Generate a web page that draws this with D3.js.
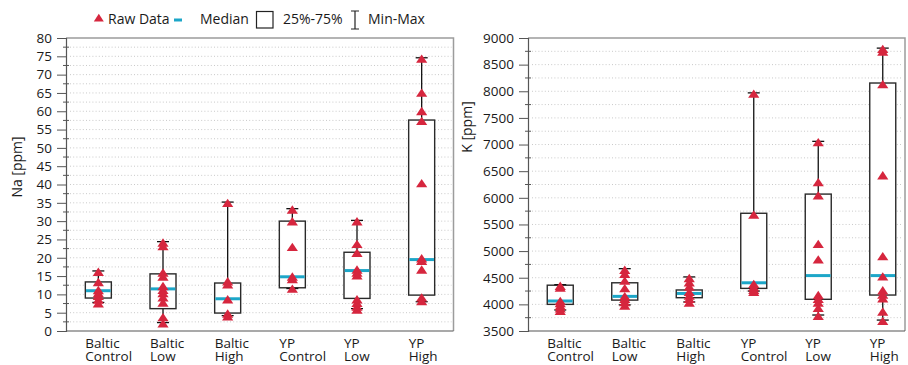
<!DOCTYPE html>
<html>
<head>
<meta charset="utf-8">
<script src="https://cdn.jsdelivr.net/npm/d3@7"></script>
<style>
  body { margin: 0; background: #fff; }
  svg { display: block; font-family: "Open Sans", sans-serif; }
</style>
</head>
<body>
<svg id="chart" width="908" height="365"></svg>
<script>
// Treatment groups
const categories = ["Baltic Control", "Baltic Low", "Baltic High", "YP Control", "YP Low", "YP High"];

// Na [ppm] summary statistics per group
const naMin    = [7.8, 2.3, 4.2, 11.6, 6.1, 8.0];
const naQ1     = [9.0, 6.1, 4.9, 11.8, 8.9, 9.8];
const naMedian = [11.0, 11.5, 8.8, 14.8, 16.5, 19.5];
const naQ3     = [13.4, 15.6, 13.1, 30.0, 21.5, 57.6];
const naMax    = [16.4, 24.4, 35.2, 33.4, 30.2, 74.6];
// Na raw measurements per group
const naRaw = [
  [16.4, 13.6, 11.4, 10.6, 9.8, 8.8, 7.8],
  [24.4, 23.4, 16.2, 15.1, 12.5, 11.5, 10.6, 9.4, 8.0, 4.0, 2.3],
  [35.2, 13.8, 13.0, 8.9, 5.0, 4.2],
  [33.4, 30.2, 23.2, 15.1, 14.4, 11.8],
  [30.2, 24.0, 21.6, 17.0, 16.2, 15.4, 8.9, 7.9, 6.9, 6.1],
  [74.6, 65.3, 60.3, 57.6, 40.6, 20.1, 19.4, 17.0, 9.4, 8.4]
];

// K [ppm] summary statistics per group
const kMin    = [3895, 3990, 4045, 4250, 3800, 3705];
const kQ1     = [4000, 4080, 4125, 4300, 4095, 4175];
const kMedian = [4063, 4150, 4205, 4405, 4540, 4540];
const kQ3     = [4360, 4405, 4270, 5710, 6070, 8155];
const kMax    = [4370, 4670, 4515, 7970, 7060, 8810];
// K raw measurements per group
const kRaw = [
  [4365, 4330, 4080, 4040, 3990, 3940, 3895],
  [4665, 4590, 4460, 4320, 4170, 4120, 4060, 3995],
  [4510, 4430, 4350, 4250, 4180, 4120, 4050],
  [7970, 5700, 4400, 4340, 4290, 4250],
  [7060, 6310, 6060, 5150, 4860, 4190, 4120, 4050, 3950, 3800],
  [8810, 8760, 8150, 6440, 4920, 4540, 4280, 4200, 4130, 3880, 3705]
];

// Axis tick labels
const naTicks = [0, 5, 10, 15, 20, 25, 30, 35, 40, 45, 50, 55, 60, 65, 70, 75, 80];
const kTicks  = [3500, 4000, 4500, 5000, 5500, 6000, 6500, 7000, 7500, 8000, 8500, 9000];

// Legend entries
const legendLabels = ["Raw Data", "Median", "25%-75%", "Min-Max"];

const RED = "#d6263e";
const CYAN = "#1ca6c8";
const BOX_W = 26;
const CAP_W = 12;

const svg = d3.select("#chart");
svg.append("rect").attr("width", 908).attr("height", 365).attr("fill", "#fff");

// triangle marker whose value sits a little below the apex
const triPath = "M0,-3.4 L5.6,5 L-5.6,5 Z";

function drawPanel(cfg) {
  const g = svg.append("g");
  const y = d3.scaleLinear().domain(cfg.domain).range([cfg.bottom, cfg.top]);
  const x = d3.scaleBand().domain(categories).range([cfg.left, cfg.right]).padding(0);
  const cx = c => x(c) + x.bandwidth() / 2;

  // minor values between labelled ticks
  const allSteps = d3.range(cfg.domain[0], cfg.domain[1] + cfg.minor / 2, cfg.minor);
  const minorOnly = allSteps.filter(v => !cfg.ticks.includes(v));

  // dotted grid
  g.append("g").selectAll("line")
    .data(allSteps.filter(v => v > cfg.domain[0] && v < cfg.domain[1]))
    .join("line")
    .attr("x1", cfg.left + 4).attr("x2", cfg.frameRight - 2)
    .attr("y1", d => y(d)).attr("y2", d => y(d))
    .attr("stroke", "#c9c9c9").attr("stroke-width", 1)
    .attr("stroke-dasharray", "1,2.2");

  // frame
  g.append("path")
    .attr("d", `M${cfg.left},${cfg.top}H${cfg.frameRight}V${cfg.bottom}`)
    .attr("fill", "none").attr("stroke", "#9c9c9c").attr("stroke-width", 1.5);
  g.append("line")
    .attr("x1", cfg.left).attr("x2", cfg.frameRight)
    .attr("y1", cfg.bottom).attr("y2", cfg.bottom)
    .attr("stroke", "#555").attr("stroke-width", 1.2);

  // y axis
  const ax = g.append("g").attr("transform", `translate(${cfg.left},0)`)
    .call(d3.axisLeft(y).tickValues(cfg.ticks).tickSize(9).tickPadding(5).tickFormat(d3.format("d")));
  ax.select(".domain").attr("stroke", "#555").attr("stroke-width", 1.2);
  ax.selectAll(".tick line").attr("stroke", "#555").attr("stroke-width", 1);
  ax.selectAll(".tick text").attr("font-size", 13.5).attr("fill", "#1a1a1a")
    .attr("font-family", "Open Sans, sans-serif");
  g.append("g").selectAll("line").data(minorOnly).join("line")
    .attr("x1", cfg.left - 3).attr("x2", cfg.left + 3)
    .attr("y1", d => y(d)).attr("y2", d => y(d))
    .attr("stroke", "#555").attr("stroke-width", 1);

  // y label
  g.append("text")
    .attr("transform", `translate(${cfg.labelX},${cfg.labelY}) rotate(-90)`)
    .attr("text-anchor", "middle").attr("font-size", 14).attr("fill", "#1a1a1a")
    .text(cfg.label);

  // x labels (two lines each)
  const xl = g.append("g").selectAll("text").data(categories).join("text")
    .attr("x", c => cx(c) - BOX_W / 2).attr("font-size", 13.5).attr("fill", "#1a1a1a");
  xl.each(function(c) {
    const parts = c.split(" ");
    const t = d3.select(this);
    t.append("tspan").attr("x", cx(c) - BOX_W / 2).attr("y", 347.5).text(parts[0]);
    t.append("tspan").attr("x", cx(c) - BOX_W / 2).attr("y", 360.5).text(parts[1]);
  });

  // boxes
  const grp = g.append("g").selectAll("g").data(categories.map((c, i) => ({ c, i }))).join("g");
  grp.append("line")
    .attr("x1", d => cx(d.c)).attr("x2", d => cx(d.c))
    .attr("y1", d => y(cfg.min[d.i])).attr("y2", d => y(cfg.max[d.i]))
    .attr("stroke", "#111").attr("stroke-width", 1.3);
  grp.append("rect")
    .attr("x", d => cx(d.c) - BOX_W / 2).attr("width", BOX_W)
    .attr("y", d => y(cfg.q3[d.i])).attr("height", d => y(cfg.q1[d.i]) - y(cfg.q3[d.i]))
    .attr("fill", "#fff").attr("stroke", "#2a2a2a").attr("stroke-width", 1.4);
  grp.append("line")
    .attr("x1", d => cx(d.c) - BOX_W / 2 + 0.7).attr("x2", d => cx(d.c) + BOX_W / 2 - 0.7)
    .attr("y1", d => y(cfg.med[d.i])).attr("y2", d => y(cfg.med[d.i]))
    .attr("stroke", CYAN).attr("stroke-width", 3);
  ["min", "max"].forEach(k => {
    grp.append("line")
      .attr("x1", d => cx(d.c) - CAP_W / 2).attr("x2", d => cx(d.c) + CAP_W / 2)
      .attr("y1", d => y(cfg[k][d.i])).attr("y2", d => y(cfg[k][d.i]))
      .attr("stroke", "#111").attr("stroke-width", 1.3);
  });
  grp.each(function(d) {
    d3.select(this).selectAll("path.pt").data(cfg.raw[d.i]).join("path")
      .attr("class", "pt")
      .attr("d", triPath)
      .attr("transform", v => `translate(${cx(d.c)},${y(v)})`)
      .attr("fill", RED);
  });
}

drawPanel({
  left: 66, right: 454, frameRight: 453.5, top: 38, bottom: 331,
  domain: [0, 80], ticks: naTicks, minor: 2.5,
  label: "Na [ppm]", labelX: 22, labelY: 167,
  min: naMin, q1: naQ1, med: naMedian, q3: naQ3, max: naMax, raw: naRaw
});
drawPanel({
  left: 528, right: 915, frameRight: 905, top: 38, bottom: 331,
  domain: [3500, 9000], ticks: kTicks, minor: 250,
  label: "K [ppm]", labelX: 472, labelY: 127,
  min: kMin, q1: kQ1, med: kMedian, q3: kQ3, max: kMax, raw: kRaw
});

// legend
const lg = svg.append("g").attr("font-size", 14).attr("fill", "#1a1a1a");
lg.append("path").attr("d", "M0,-4.2 L5,3.4 L-5,3.4 Z").attr("transform", "translate(98.8,18)").attr("fill", RED);
lg.append("text").attr("x", 108).attr("y", 24).text(legendLabels[0]);
lg.append("line").attr("x1", 174).attr("x2", 182).attr("y1", 20).attr("y2", 20)
  .attr("stroke", CYAN).attr("stroke-width", 3);
lg.append("text").attr("x", 200).attr("y", 24).text(legendLabels[1]);
lg.append("rect").attr("x", 256.5).attr("y", 11.5).attr("width", 16.5).attr("height", 16.5)
  .attr("fill", "none").attr("stroke", "#222").attr("stroke-width", 1.2);
lg.append("text").attr("x", 283).attr("y", 24).text(legendLabels[2]);
lg.append("path").attr("d", "M351,11H359M355,11V29M351,29H359")
  .attr("fill", "none").attr("stroke", "#222").attr("stroke-width", 1.2);
lg.append("text").attr("x", 368).attr("y", 24).text(legendLabels[3]);
</script>
</body>
</html>
